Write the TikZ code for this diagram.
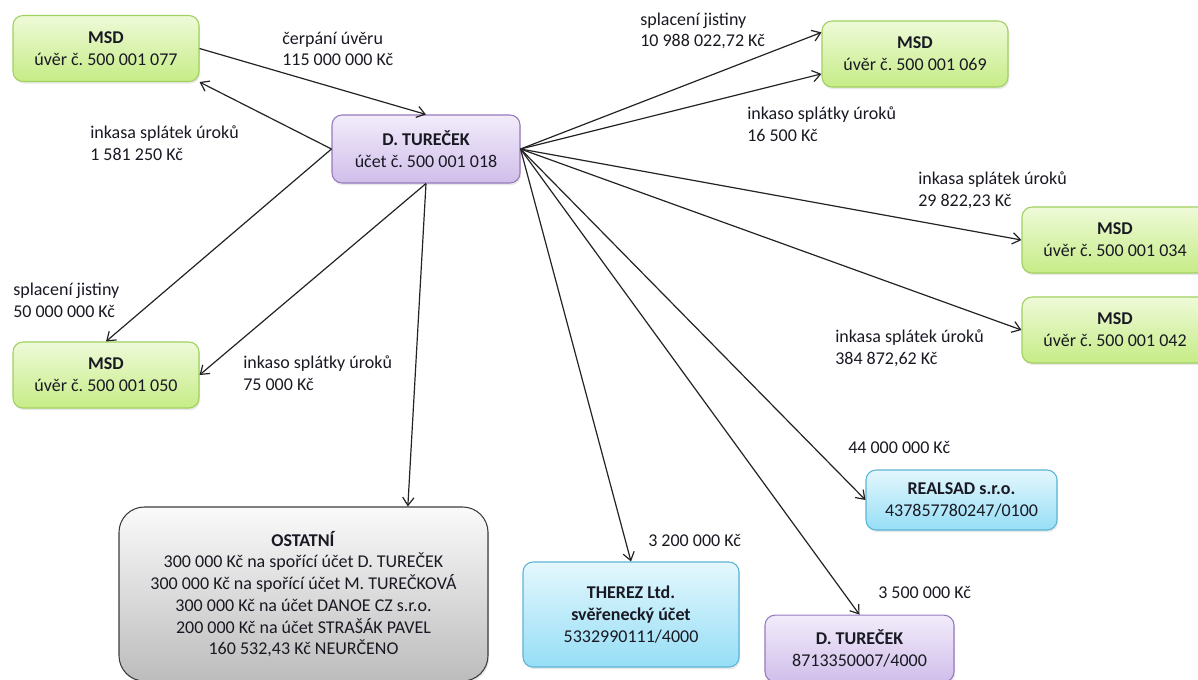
\documentclass[tikz,border=0pt]{standalone}
\usepackage{fontspec}
\setmainfont{Carlito}
\usetikzlibrary{arrows.meta,shadows}
\frenchspacing

\definecolor{txt}{RGB}{25,25,35}
\definecolor{arr}{RGB}{35,35,35}
\definecolor{grntop}{RGB}{238,250,216}
\definecolor{grnbot}{RGB}{198,236,134}
\definecolor{grnline}{RGB}{160,208,96}
\definecolor{viotop}{RGB}{242,236,250}
\definecolor{viobot}{RGB}{208,190,234}
\definecolor{violine}{RGB}{150,122,190}
\definecolor{blutop}{RGB}{228,247,253}
\definecolor{blubot}{RGB}{150,222,246}
\definecolor{bluline}{RGB}{92,180,214}
\definecolor{grytop}{RGB}{250,250,250}
\definecolor{grybot}{RGB}{188,188,188}
\definecolor{gryline}{RGB}{60,60,60}

\begin{document}
\begin{tikzpicture}[x=0.75pt, y=-0.75pt,
    every node/.style={font=\fontsize{13.5}{16.3}\selectfont, text=txt},
    box/.style={rounded corners=7.5pt, draw, align=center, line width=0.8pt,
        drop shadow={opacity=0.18, shadow xshift=0.8pt, shadow yshift=-1.6pt}},
    msdbox/.style={box, draw=grnline, top color=grntop, bottom color=grnbot,
        minimum width=139.5pt, minimum height=49.5pt},
    viobox/.style={box, draw=violine, top color=viotop, bottom color=viobot},
    blubox/.style={box, draw=bluline, top color=blutop, bottom color=blubot},
    grybox/.style={box, rounded corners=19pt, draw=gryline, top color=grytop, bottom color=grybot},
    flow/.style={draw=arr, line width=0.9pt, -{Straight Barb[length=6pt,width=8.5pt]}},
    amount/.style={anchor=west, align=left, inner xsep=0pt}]
\path[use as bounding box, clip] (0,0) rectangle (1198,679);

% accounts
    \node[viobox, minimum width=141pt, minimum height=51pt] (dt) at (426,149)
        {\textbf{D. TUREČEK}\\účet č. 500 001 018};
    \node[msdbox] (msd077) at (106,48.5) {\textbf{MSD}\\úvěr č. 500 001 077};
    \node[msdbox] (msd050) at (106,375) {\textbf{MSD}\\úvěr č. 500 001 050};
    \node[msdbox] (msd069) at (915,54) {\textbf{MSD}\\úvěr č. 500 001 069};
    \node[msdbox] (msd034) at (1115,240) {\textbf{MSD}\\úvěr č. 500 001 034};
    \node[msdbox] (msd042) at (1115,330) {\textbf{MSD}\\úvěr č. 500 001 042};
    \node[blubox, minimum width=143.25pt, minimum height=45pt] (realsad) at (961.5,500)
        {\textbf{REALSAD s.r.o.}\\437857780247/0100};
    \node[blubox, minimum width=162pt, minimum height=78.75pt] (therez) at (631,614.5)
        {\textbf{THEREZ Ltd.}\\\textbf{svěřenecký účet}\\5332990111/4000};
    \node[viobox, minimum width=141.75pt, minimum height=50pt] (dtb) at (859.5,648.5)
        {\textbf{D. TUREČEK}\\8713350007/4000};
    \node[grybox, minimum width=276.75pt, minimum height=130.5pt] (ostatni) at (303.5,594)
        {\textbf{OSTATNÍ}\\300 000 Kč na spořící účet D. TUREČEK\\
         300 000 Kč na spořící účet M. TUREČKOVÁ\\300 000 Kč na účet DANOE CZ s.r.o.\\
         200 000 Kč na účet STRAŠÁK PAVEL\\160 532,43 Kč NEURČENO};

% amounts
    \node[amount] (l1) at (282,49) {čerpání úvěru\\115 000 000 Kč};
    \node[amount] (l2) at (90,143) {inkasa splátek úroků\\1 581 250 Kč};
    \node[amount] (l3) at (13,300) {splacení jistiny\\50 000 000 Kč};
    \node[amount] (l4) at (243,373) {inkaso splátky úroků\\75 000 Kč};
    \node[amount] (l5) at (640,31) {splacení jistiny\\10 988 022,72 Kč};
    \node[amount] (l6) at (747,124) {inkaso splátky úroků\\16 500 Kč};
    \node[amount] (l7) at (918,190) {inkasa splátek úroků\\29 822,23 Kč};
    \node[amount] (l8) at (835,348) {inkasa splátek úroků\\384 872,62 Kč};
    \node[amount] (l9) at (848,447) {44 000 000 Kč};
    \node[amount] (l10) at (648,540) {3 200 000 Kč};
    \node[amount] (l11) at (878,592) {3 500 000 Kč};

% payments
    \draw[flow] (msd077.east) -- (dt.north);
    \draw[flow] (dt.west) -- (msd077.south east);
    \draw[flow] (dt.west) -- (msd050.north);
    \draw[flow] (dt.south) -- (msd050.east);
    \draw[flow] (dt.south) -- (ostatni.40);
    \draw[flow] (dt.east) -- (msd069.167);
    \draw[flow] (dt.east) -- (msd069.192);
    \draw[flow] (dt.east) -- (msd034.west);
    \draw[flow] (dt.east) -- (msd042.west);
    \draw[flow] (dt.east) -- (realsad.west);
    \draw[flow] (dt.east) -- (dtb.north);
    \draw[flow] (dt.east) -- (therez.north);
\end{tikzpicture}
\end{document}
